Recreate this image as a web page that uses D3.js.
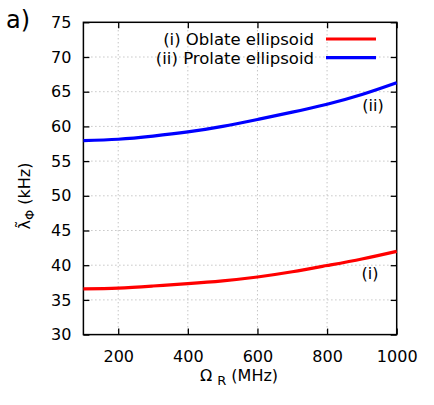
<!DOCTYPE html>
<html><head><meta charset="utf-8">
<script src="https://cdn.jsdelivr.net/npm/d3@7"></script>
<style>body{margin:0;background:#fff}text{font-family:"DejaVu Sans",sans-serif;fill:#000}</style>
</head><body><svg id="c" width="434" height="405"></svg>
<script>
const omega = [100,200,300,400,500,600,700,800,900,1000];
const oblate = [36.6,36.7,37.0,37.35,37.75,38.3,39.05,39.95,40.9,42.0];
const prolate = [57.95,58.15,58.6,59.2,60.0,61.0,62.05,63.2,64.6,66.3];
const xTicks = [200,400,600,800,1000];
const yTicks = [30,35,40,45,50,55,60,65,70,75];
const seriesNames = ["(i) Oblate ellipsoid","(ii) Prolate ellipsoid"];
const colors = ["#ff0000","#0000ff"];

const svg = d3.select("#c");
const L=83.4,R=396.7,T=22.3,B=334.6;
const x = d3.scaleLinear().domain([100,1000]).range([L,R]);
const y = d3.scaleLinear().domain([30,75]).range([B,T]);

// grid
const g = svg.append("g");
g.selectAll(".gx").data(xTicks.filter(d=>d<1000)).join("line")
  .attr("x1",d=>x(d)).attr("x2",d=>x(d)).attr("y1",T).attr("y2",B)
  .attr("stroke","#aaa").attr("stroke-width",1).attr("stroke-dasharray","1,3");
g.selectAll(".gy").data(yTicks.filter(d=>d>30&&d<75)).join("line")
  .attr("x1",L).attr("x2",R).attr("y1",d=>y(d)).attr("y2",d=>y(d))
  .attr("stroke","#aaa").attr("stroke-width",1).attr("stroke-dasharray","1,3");

// axes (ticks inward, mirrored)
const tl=6;
const fmt = d3.format("d");
const axL = svg.append("g").attr("transform",`translate(${L},0)`)
  .call(d3.axisLeft(y).tickValues(yTicks).tickFormat(fmt).tickSize(-tl).tickPadding(12));
const axR = svg.append("g").attr("transform",`translate(${R},0)`)
  .call(d3.axisRight(y).tickValues(yTicks).tickSize(-tl).tickFormat(""));
const axB = svg.append("g").attr("transform",`translate(0,${B})`)
  .call(d3.axisBottom(x).tickValues(xTicks).tickFormat(fmt).tickSize(-tl).tickPadding(16));
const axT = svg.append("g").attr("transform",`translate(0,${T})`)
  .call(d3.axisTop(x).tickValues(xTicks).tickSize(-tl).tickFormat(""));
[axL,axR,axB,axT].forEach(a=>{
  a.select(".domain").remove();
  a.selectAll("line").attr("stroke","#000").attr("stroke-width",1.3);
  a.selectAll("text").attr("font-size",16).attr("font-family","DejaVu Sans").attr("fill","#000");
});
svg.append("rect").attr("x",L).attr("y",T).attr("width",R-L).attr("height",B-T)
  .attr("fill","none").attr("stroke","#000").attr("stroke-width",1.5);

// curves
const line = d3.line().x((d,i)=>x(omega[i])).y(d=>y(d)).curve(d3.curveNatural);
[oblate,prolate].forEach((s,k)=>{
  svg.append("path").attr("d",line(s)).attr("fill","none")
    .attr("stroke",colors[k]).attr("stroke-width",3.2);
});

// legend
seriesNames.forEach((n,k)=>{
  const yy = 39 + k*18.7;
  svg.append("text").attr("x",314).attr("y",yy+6).attr("text-anchor","end")
    .attr("font-size",16.5).text(n);
  svg.append("line").attr("x1",326).attr("x2",376).attr("y1",yy).attr("y2",yy)
    .attr("stroke",colors[k]).attr("stroke-width",3.2);
});

// annotations
svg.append("text").attr("x",373).attr("y",111).attr("text-anchor","middle").attr("font-size",16).text("(ii)");
svg.append("text").attr("x",370).attr("y",279).attr("text-anchor","middle").attr("font-size",16).text("(i)");

// panel label
svg.append("text").attr("x",6).attr("y",28).attr("font-size",24).text("a)");

// x label
const xl = svg.append("text").attr("x",239).attr("y",381).attr("text-anchor","middle").attr("font-size",16);
xl.append("tspan").text("Ω ");
xl.append("tspan").attr("font-size",13).attr("dy",4).text("R");
xl.append("tspan").attr("dy",-4).text(" (MHz)");

// y label
const yl = svg.append("text").attr("transform","translate(30,196) rotate(-90)").attr("text-anchor","middle").attr("font-size",16);
yl.append("tspan").text("λ\u0303");
yl.append("tspan").attr("font-size",13).attr("dy",4).text("Φ");
yl.append("tspan").attr("dy",-4).text(" (kHz)");
</script></body></html>
